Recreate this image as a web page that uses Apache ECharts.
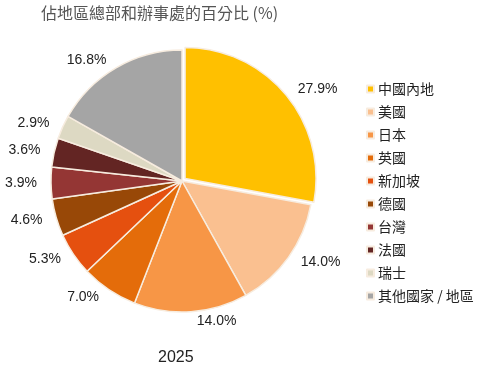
<!DOCTYPE html>
<html><head><meta charset="utf-8">
<script src="https://cdn.jsdelivr.net/npm/echarts@6/dist/echarts.min.js"></script>
<style>html,body{margin:0;padding:0;background:#fff}#c{width:504px;height:371px}</style>
</head><body><div id="c"></div>
<script>
const titleText = '佔地區總部和辦事處的百分比 (%)';
const yearText = '2025';
const categories = ['中國內地','美國','日本','英國','新加坡','德國','台灣','法國','瑞士','其他國家 / 地區'];
const values = [27.9, 14.0, 14.0, 7.0, 5.3, 4.6, 3.9, 3.6, 2.9, 16.8];
const colors = ['#FFC000','#FAC090','#F79646','#E46C0A','#E5500F','#984807','#943634','#632523','#DDD9C3','#A5A5A5'];

const chart = echarts.init(document.getElementById('c'), null, {renderer:'canvas'});
chart.setOption({
  animation: false,
  color: colors,
  title: [
    {text: titleText, left: 36, top: 0, textStyle:{fontFamily:'Noto Sans CJK TC', fontSize:16, fontWeight:'normal', color:'#555'}},
    {text: yearText, left: 153, top: 345, textStyle:{fontFamily:'Liberation Sans', fontSize:16, fontWeight:'normal', color:'#222'}}
  ],
  legend: {
    orient:'vertical', left: 361, top: 77, itemWidth: 7, itemHeight: 7, itemGap: 9,
    icon: 'rect',
    textStyle:{fontFamily:'Noto Sans CJK TC', fontSize:14, color:'#222', padding:[0,0,0,-1]},
    data: categories
  },
  series: [{
    type:'pie', center:[182,181], radius:[0,131], startAngle:90, clockwise:true,
    selectedMode:'single', selectedOffset: 4,
    itemStyle:{borderColor:'#f7ecdf', borderWidth:1.5},
    label:{show:true, position:'outside', overflow:'none', bleedMargin:0,
      formatter: p => p.value.toFixed(1)+'%', fontFamily:'Liberation Sans', fontSize:14, color:'#222'},
    labelLine:{show:false, length:9, length2:0},
    data: categories.map((c,i)=>({name:c, value:values[i], selected: i===0}))
  }]
});
</script></body></html>
